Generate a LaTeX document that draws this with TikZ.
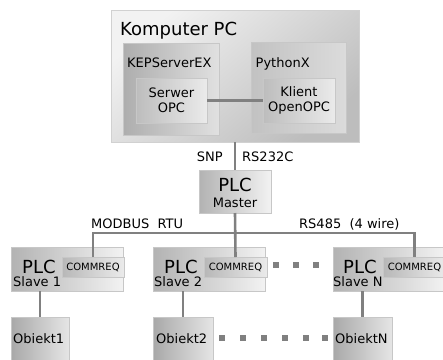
\documentclass[tikz,border=0pt]{standalone}
\usepackage{fontspec}
\setmainfont{DejaVu Sans}
\begin{document}
\begin{tikzpicture}[x=1pt,y=-1pt,
  gbox/.style={draw=black!22, line width=0.8pt, rectangle, anchor=north west, inner sep=0pt, outer sep=0pt,
    left color=black!30, right color=black!5},
  pcbox/.style={draw=black!18, line width=0.8pt, rectangle, anchor=north west, inner sep=0pt, outer sep=0pt,
    top color=black!5, bottom color=black!26, shading angle=40},
  midbox/.style={gbox, left color=black!32, right color=black!12},
  pybox/.style={gbox, left color=black!24, right color=black!14},
  conn/.style={draw=black!50, line width=2.6pt},
  dotsq/.style={fill=black!50},
  bigtxt/.style={font=\fontsize{18}{20}\selectfont, inner sep=0pt},
  txt/.style={font=\fontsize{13}{15}\selectfont, inner sep=0pt},
  smalltxt/.style={font=\fontsize{10}{11}\selectfont, inner sep=0pt},
]
\useasboundingbox (0,0) rectangle (443,359);
\clip (0,0) rectangle (443,359);
\fill[white] (0,0) rectangle (443,359);

% Komputer PC
\node[pcbox, minimum width=248pt, minimum height=132pt] (pc) at (111,10) {};
\node[bigtxt, anchor=base west] (pctitle) at (120,35) {Komputer PC};
\node[midbox, minimum width=96pt, minimum height=92pt] (kep) at (123,43) {};
\node[txt, anchor=base west] (keptxt) at (127,67) {KEPServerEX};
\node[pybox, minimum width=95pt, minimum height=91pt] (py) at (251,42) {};
\node[txt, anchor=base west] (pytxt) at (255.5,67) {PythonX};
\node[gbox, left color=black!26, right color=black!8, minimum width=71pt, minimum height=45pt, txt, align=center] (serw) at (136,78) {Serwer\\OPC};
\node[gbox, left color=black!26, right color=black!8, minimum width=72pt, minimum height=45pt, txt, align=center] (kli) at (263,78) {Klient\\OpenOPC};
\draw[conn] (serw.east) -- (kli.west);

% PLC Master
\node[gbox, minimum width=72pt, minimum height=43pt] (master) at (199,170) {};
\node[bigtxt, anchor=base] (mplc) at (235,191) {PLC};
\node[txt, anchor=base] (mmast) at (235,207) {Master};
\draw[conn] (pc.south) -- (master.north);
\node[txt, anchor=base east] (snp) at (223,161) {SNP};
\node[txt, anchor=base west] (rs232) at (242,161) {RS232C};

% Slaves
\node[gbox, minimum width=112pt, minimum height=44pt] (s1) at (11,247) {};
\node[gbox, minimum width=112pt, minimum height=44pt] (s2) at (153,247) {};
\node[gbox, minimum width=112pt, minimum height=44pt] (sN) at (333,247) {};
\node[gbox, left color=black!28, right color=black!8, minimum width=62pt, minimum height=20pt, smalltxt] (c1) at (62,257) {COMMREQ};
\node[gbox, left color=black!28, right color=black!8, minimum width=63pt, minimum height=20pt, smalltxt] (c2) at (204,257) {COMMREQ};
\node[gbox, left color=black!28, right color=black!8, minimum width=63pt, minimum height=20pt, smalltxt] (cN) at (383,257) {COMMREQ};
\node[bigtxt, anchor=base west] (p1) at (22,273) {PLC};
\node[txt, anchor=base west] (l1) at (13,286) {Slave 1};
\node[bigtxt, anchor=base west] (p2) at (164,273) {PLC};
\node[txt, anchor=base west] (l2) at (154,286) {Slave 2};
\node[bigtxt, anchor=base west] (pN) at (343,273) {PLC};
\node[txt, anchor=base west] (lN) at (333,286) {Slave N};

% bus
\coordinate (bus) at (0,233);
\draw[conn] (c1.north) -- (c1.north |- bus) -- (cN.north |- bus) -- (cN.north);
\draw[conn] (master.south) -- (c2.north);
\node[txt, anchor=base west] (modbus) at (91,228) {MODBUS\ \ RTU};
\node[txt, anchor=base west] (rs485) at (299,228) {RS485\ \ (4 wire)};

% Objects
\node[gbox, left color=black!34, right color=black!10, minimum width=58pt, minimum height=50pt] (o1) at (11,317) {};
\node[gbox, left color=black!34, right color=black!10, minimum width=60pt, minimum height=50pt] (o2) at (153,317) {};
\node[gbox, left color=black!34, right color=black!10, minimum width=59pt, minimum height=50pt] (oN) at (333,317) {};
\node[txt, anchor=base west] (ot1) at (13,343) {Obiekt1};
\node[txt, anchor=base west] (ot2) at (156,343) {Obiekt2};
\node[txt, anchor=base west] (otN) at (335,343) {ObiektN};
\draw[conn] (s1.south -| o1.north) -- (o1.north);
\draw[conn] (s2.south -| o2.north) -- (o2.north);
\draw[conn] (sN.south -| oN.north) -- (oN.north);

% dots
\foreach \x in {276,296,316} \fill[dotsq] (\x-3,262) rectangle +(6,6);
\foreach \x in {222,243,264,285,306,325} \fill[dotsq] (\x-3,335) rectangle +(6,6);
\end{tikzpicture}
\end{document}
